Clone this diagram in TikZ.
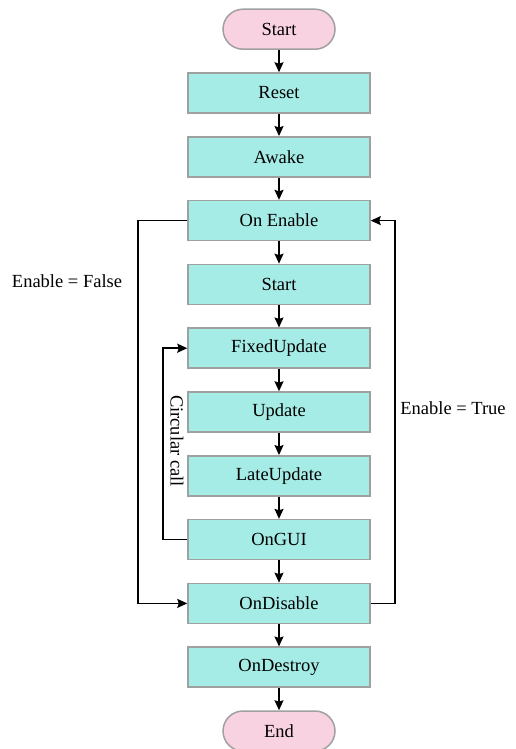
\documentclass[tikz,border=0pt]{standalone}
\usepackage{fontspec}
\setmainfont{Liberation Serif}
\usetikzlibrary{arrows.meta}
\definecolor{boxfill}{HTML}{A6ECE6}
\definecolor{termfill}{HTML}{F9D2E2}
\definecolor{edge}{HTML}{A0A0A0}
\begin{document}
\begin{tikzpicture}[x=1pt,y=-1pt,
  stagebox/.style={draw=edge,line width=1.5pt,fill=boxfill,minimum width=182pt,minimum height=40pt,inner sep=0pt,font=\fontsize{18.5}{22}\selectfont},
  termbox/.style={draw=edge,line width=1.5pt,fill=termfill,rounded corners=20pt,minimum width=112pt,minimum height=40pt,inner sep=0pt,font=\fontsize{18.5}{22}\selectfont},
  flow/.style={line width=1.5pt,-{Stealth[length=10pt,width=9pt,inset=1.5pt]}},
  label/.style={font=\fontsize{18.5}{22}\selectfont,inner sep=0pt}]
\useasboundingbox (0,0) rectangle (515,749);
% main column of stages
\node[termbox]  (start)   at (279,29.2)  {Start};
\node[stagebox] (reset)   at (279,93.0)  {Reset};
\node[stagebox] (awake)   at (279,156.8) {Awake};
\node[stagebox] (enable)  at (279,220.6) {On Enable};
\node[stagebox] (sstart)  at (279,284.4) {Start};
\node[stagebox] (fixed)   at (279,348.2) {FixedUpdate};
\node[stagebox] (update)  at (279,412.0) {Update};
\node[stagebox] (late)    at (279,475.8) {LateUpdate};
\node[stagebox] (gui)     at (279,539.6) {OnGUI};
\node[stagebox] (disable) at (279,603.4) {OnDisable};
\node[stagebox] (destroy) at (279,667.2) {OnDestroy};
\node[termbox]  (end)     at (279,731.0) {End};
% straight-down connectors
\foreach \a/\b in {start/reset,reset/awake,awake/enable,enable/sstart,sstart/fixed,fixed/update,update/late,late/gui,gui/disable,disable/destroy,destroy/end}
  \draw[flow] (\a.south) -- (\b.north);
% loops
\coordinate (lft) at (138,0);
\coordinate (rgt) at (395,0);
\coordinate (inr) at (163,0);
\draw[flow] (enable.west) -- (enable.west -| lft) -- (disable.west -| lft) -- (disable.west);
\draw[flow] (disable.east) -- (disable.east -| rgt) -- (enable.east -| rgt) -- (enable.east);
\draw[flow] (gui.west) -- (gui.west -| inr) -- (fixed.west -| inr) -- (fixed.west);
% labels
\node[label] (lfalse) at (67,281) {Enable = False};
\node[label] (ltrue) at (453,408) {Enable = True};
\node[label,rotate=-90] (lcirc) at (177,441) {Circular call};
\end{tikzpicture}
\end{document}
